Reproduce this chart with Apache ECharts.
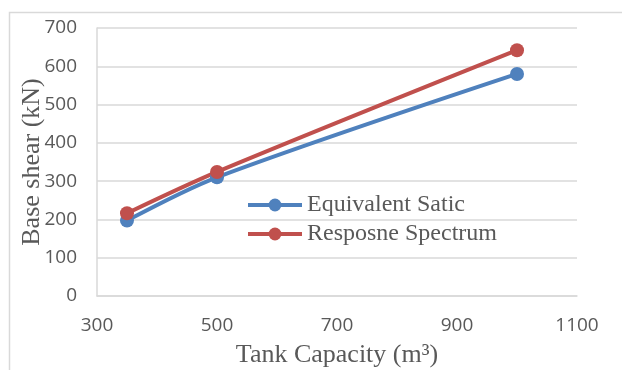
<!DOCTYPE html>
<html>
<head>
<meta charset="utf-8">
<script src="https://cdn.jsdelivr.net/npm/echarts@6/dist/echarts.min.js"></script>
<style>html,body{margin:0;padding:0;background:#fff;}#c{width:622px;height:370px;}</style>
</head>
<body>
<div id="c"></div>
<script>
const capacities = [350, 500, 1000];
const equivalentStatic = [197, 310, 580];
const responseSpectrum = [216, 324, 642];
const seriesNames = ['Equivalent Satic', 'Resposne Spectrum'];
const xTitle = 'Tank Capacity (m³)';
const yTitle = 'Base shear (kN)';

const chart = echarts.init(document.getElementById('c'), null, {renderer: 'canvas'});
const serif = '"Liberation Serif", "Times New Roman", serif';
const sans = '"Open Sans", sans-serif';
const gray = '#595959';
const gridCol = '#d9d9d9';

function pairs(xs, ys) { return xs.map((x, i) => [x, ys[i]]); }

chart.setOption({
  backgroundColor: '#fff',
  animation: false,
  graphic: [{
    type: 'rect', left: 7, top: 10,
    shape: {width: 700, height: 400},
    style: {fill: 'none', stroke: gridCol, lineWidth: 1.5}, silent: true, z: -1
  }],
  grid: {left: 97, right: 45, top: 28, bottom: 74, containLabel: false, outerBoundsMode: 'none'},
  legend: {
    left: 241, top: 188, orient: 'vertical',
    itemWidth: 54, itemHeight: 16, itemGap: 5,
    lineStyle: {width: 4},
    textStyle: {fontFamily: serif, fontSize: 24, color: gray},
    data: seriesNames
  },
  xAxis: {
    type: 'value', min: 300, max: 1100, interval: 200,
    name: xTitle, nameLocation: 'middle', nameGap: 46, nameMoveOverlap: false,
    nameTextStyle: {fontFamily: serif, fontSize: 26, color: gray},
    axisLine: {show: true, lineStyle: {color: gridCol, width: 1.5}},
    axisTick: {show: false},
    splitLine: {show: false},
    axisLabel: {margin: 20, fontFamily: sans, fontSize: 19, color: gray, formatter: v => String(v)}
  },
  yAxis: {
    type: 'value', min: 0, max: 700, interval: 100,
    name: yTitle, nameLocation: 'middle', nameGap: 52, nameRotate: 90, nameMoveOverlap: false,
    nameTextStyle: {fontFamily: serif, fontSize: 26, color: gray},
    axisLine: {show: true, lineStyle: {color: gridCol, width: 1.5}},
    axisTick: {show: false},
    splitLine: {show: true, lineStyle: {color: gridCol, width: 1.5}},
    axisLabel: {margin: 20, fontFamily: sans, fontSize: 19, color: gray}
  },
  series: [
    {
      name: seriesNames[0], type: 'line', smooth: 0.3,
      data: pairs(capacities, equivalentStatic),
      symbol: 'circle', symbolSize: 14,
      lineStyle: {color: '#4f81bd', width: 4},
      itemStyle: {color: '#4f81bd'}
    },
    {
      name: seriesNames[1], type: 'line', smooth: 0.3,
      data: pairs(capacities, responseSpectrum),
      symbol: 'circle', symbolSize: 14,
      lineStyle: {color: '#c0504d', width: 4},
      itemStyle: {color: '#c0504d'}
    }
  ]
});
</script>
</body>
</html>
